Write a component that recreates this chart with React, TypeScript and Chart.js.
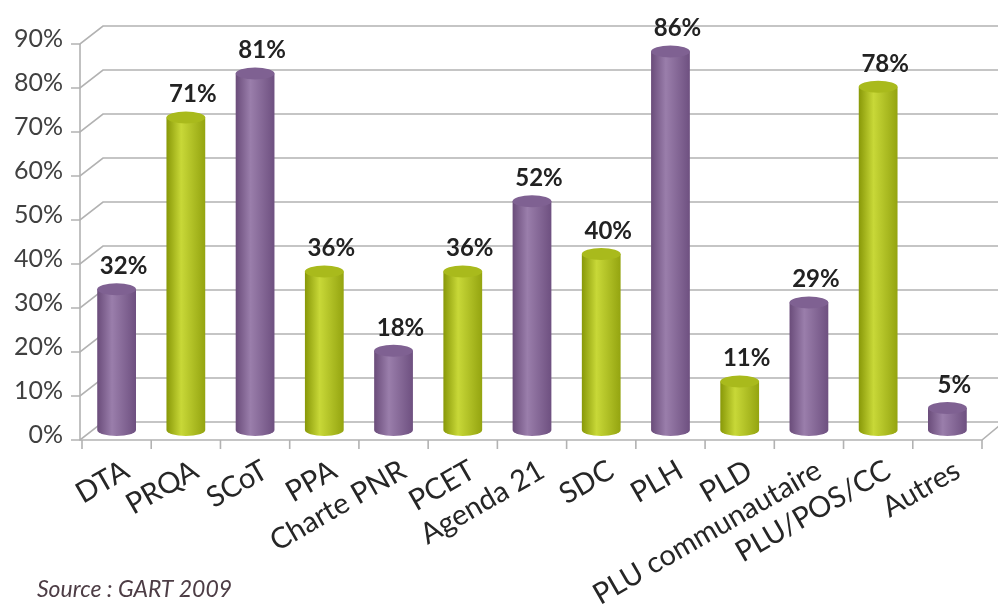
import React, { useEffect, useRef } from "react";
import { Chart, registerables } from "chart.js";

Chart.register(...registerables);

const categories = [
  "DTA",
  "PRQA",
  "SCoT",
  "PPA",
  "Charte PNR",
  "PCET",
  "Agenda 21",
  "SDC",
  "PLH",
  "PLD",
  "PLU communautaire",
  "PLU/POS/CC",
  "Autres",
];
const values = [32, 71, 81, 36, 18, 36, 52, 40, 86, 11, 29, 78, 5];
const colorGroups = [
  "purple", "green", "purple", "green", "purple", "green", "purple",
  "green", "purple", "green", "purple", "green", "purple",
];
const yTicks = [0, 10, 20, 30, 40, 50, 60, 70, 80, 90];
const sourceText = "Source : GART 2009";

const palettes: Record<string, { d1: string; l: string; d2: string; top: string }> = {
  purple: { d1: "#6a4c7a", l: "#9a7eab", d2: "#6e5080", top: "#7f6192" },
  green: { d1: "#889808", l: "#c8d838", d2: "#94a410", top: "#a9ba1c" },
};

const FONT = "Lato, 'Open Sans', sans-serif";

const frame3d = {
  id: "frame3d",
  beforeDatasetsDraw(chart: any) {
    const { ctx, chartArea, scales } = chart;
    const x = scales.x;
    const y = scales.y;
    const L = chartArea.left - 2;
    const R = chartArea.right;
    const dx = 23;
    const front = 10;
    const back = -8;
    ctx.save();
    ctx.strokeStyle = "#b2b2b2";
    ctx.lineWidth = 1.6;
    yTicks.forEach((v) => {
      const py = y.getPixelForValue(v);
      ctx.beginPath();
      ctx.moveTo(L - 9, py + front);
      ctx.lineTo(L, py + front);
      ctx.lineTo(L + dx, py + back);
      ctx.lineTo(chart.width, py + back);
      ctx.stroke();
    });
    const top = y.getPixelForValue(yTicks[yTicks.length - 1]) + front;
    const by = y.getPixelForValue(0) + front;
    ctx.beginPath();
    ctx.moveTo(L, top);
    ctx.lineTo(L, by);
    ctx.lineTo(R, by);
    ctx.lineTo(R + 17, by - 14);
    ctx.stroke();
    for (let i = 0; i <= categories.length; i++) {
      const px = x.getPixelForValue(i - 0.5);
      ctx.beginPath();
      ctx.moveTo(px, by);
      ctx.lineTo(px, by + 9);
      ctx.stroke();
    }
    ctx.restore();
  },
  afterDatasetsDraw(chart: any) {
    const { ctx } = chart;
    const meta = chart.getDatasetMeta(0);
    ctx.save();
    meta.data.forEach((bar: any, i: number) => {
      const p = bar.getProps(["x", "y", "base", "width"], true);
      const cx = p.x;
      const topY = p.y;
      const base = p.base;
      const rx = p.width / 2;
      const ry = 6;
      const pal = palettes[colorGroups[i]];
      const g = ctx.createLinearGradient(cx - rx, 0, cx + rx, 0);
      g.addColorStop(0, pal.d1);
      g.addColorStop(0.38, pal.l);
      g.addColorStop(1, pal.d2);
      ctx.fillStyle = g;
      ctx.beginPath();
      ctx.moveTo(cx - rx, topY);
      ctx.lineTo(cx - rx, base);
      ctx.ellipse(cx, base, rx, ry, 0, Math.PI, 0, true);
      ctx.lineTo(cx + rx, topY);
      ctx.closePath();
      ctx.fill();
      ctx.beginPath();
      ctx.ellipse(cx, topY, rx, ry, 0, 0, Math.PI * 2);
      ctx.fillStyle = pal.top;
      ctx.fill();
      ctx.fillStyle = "#222222";
      ctx.font = `bold 24px ${FONT}`;
      ctx.textAlign = "center";
      ctx.textBaseline = "bottom";
      ctx.fillText(values[i] + "%", cx + 7, topY - ry - 5);
    });
    ctx.restore();
  },
  afterDraw(chart: any) {
    const { ctx } = chart;
    ctx.save();
    ctx.fillStyle = "#4d3d45";
    ctx.font = `italic 23px ${FONT}`;
    ctx.textAlign = "left";
    ctx.textBaseline = "alphabetic";
    ctx.fillText(sourceText, 37, 597);
    ctx.restore();
  },
};

export default function App() {
  const ref = useRef<HTMLCanvasElement | null>(null);
  useEffect(() => {
    if (!ref.current) return;
    const chart = new Chart(ref.current, {
      type: "bar",
      data: {
        labels: categories,
        datasets: [
          {
            data: values,
            backgroundColor: "rgba(0,0,0,0)",
            borderWidth: 0,
            barPercentage: 0.56,
            categoryPercentage: 1,
          },
        ],
      },
      options: {
        animation: false,
        responsive: false,
        devicePixelRatio: 1,
        layout: { padding: { top: 33, right: 16, left: 0, bottom: 0 } },
        plugins: {
          legend: { display: false },
          tooltip: { enabled: false },
        },
        scales: {
          x: {
            grid: { display: false, drawTicks: false },
            border: { display: false },
            afterFit: (s: any) => {
              s.height = 179;
            },
            ticks: {
              minRotation: 30,
              maxRotation: 30,
              autoSkip: false,
              labelOffset: 10,
              padding: 23,
              color: "#262626",
              font: { family: FONT, size: 29 },
            },
          },
          y: {
            min: 0,
            max: 90,
            grid: { display: false, drawTicks: false },
            border: { display: false },
            afterFit: (s: any) => {
              s.width = 82;
            },
            ticks: {
              stepSize: 10,
              padding: 19,
              labelOffset: 5,
              color: "#404040",
              font: { family: FONT, size: 25 },
              callback: (v: any) => v + "%",
            },
          },
        },
      },
      plugins: [frame3d],
    });
    return () => chart.destroy();
  }, []);
  return (
    <div style={{ position: "fixed", left: 0, top: 0, width: 998, height: 609, background: "#fff" }}>
      <canvas ref={ref} width={998} height={609} />
    </div>
  );
}
